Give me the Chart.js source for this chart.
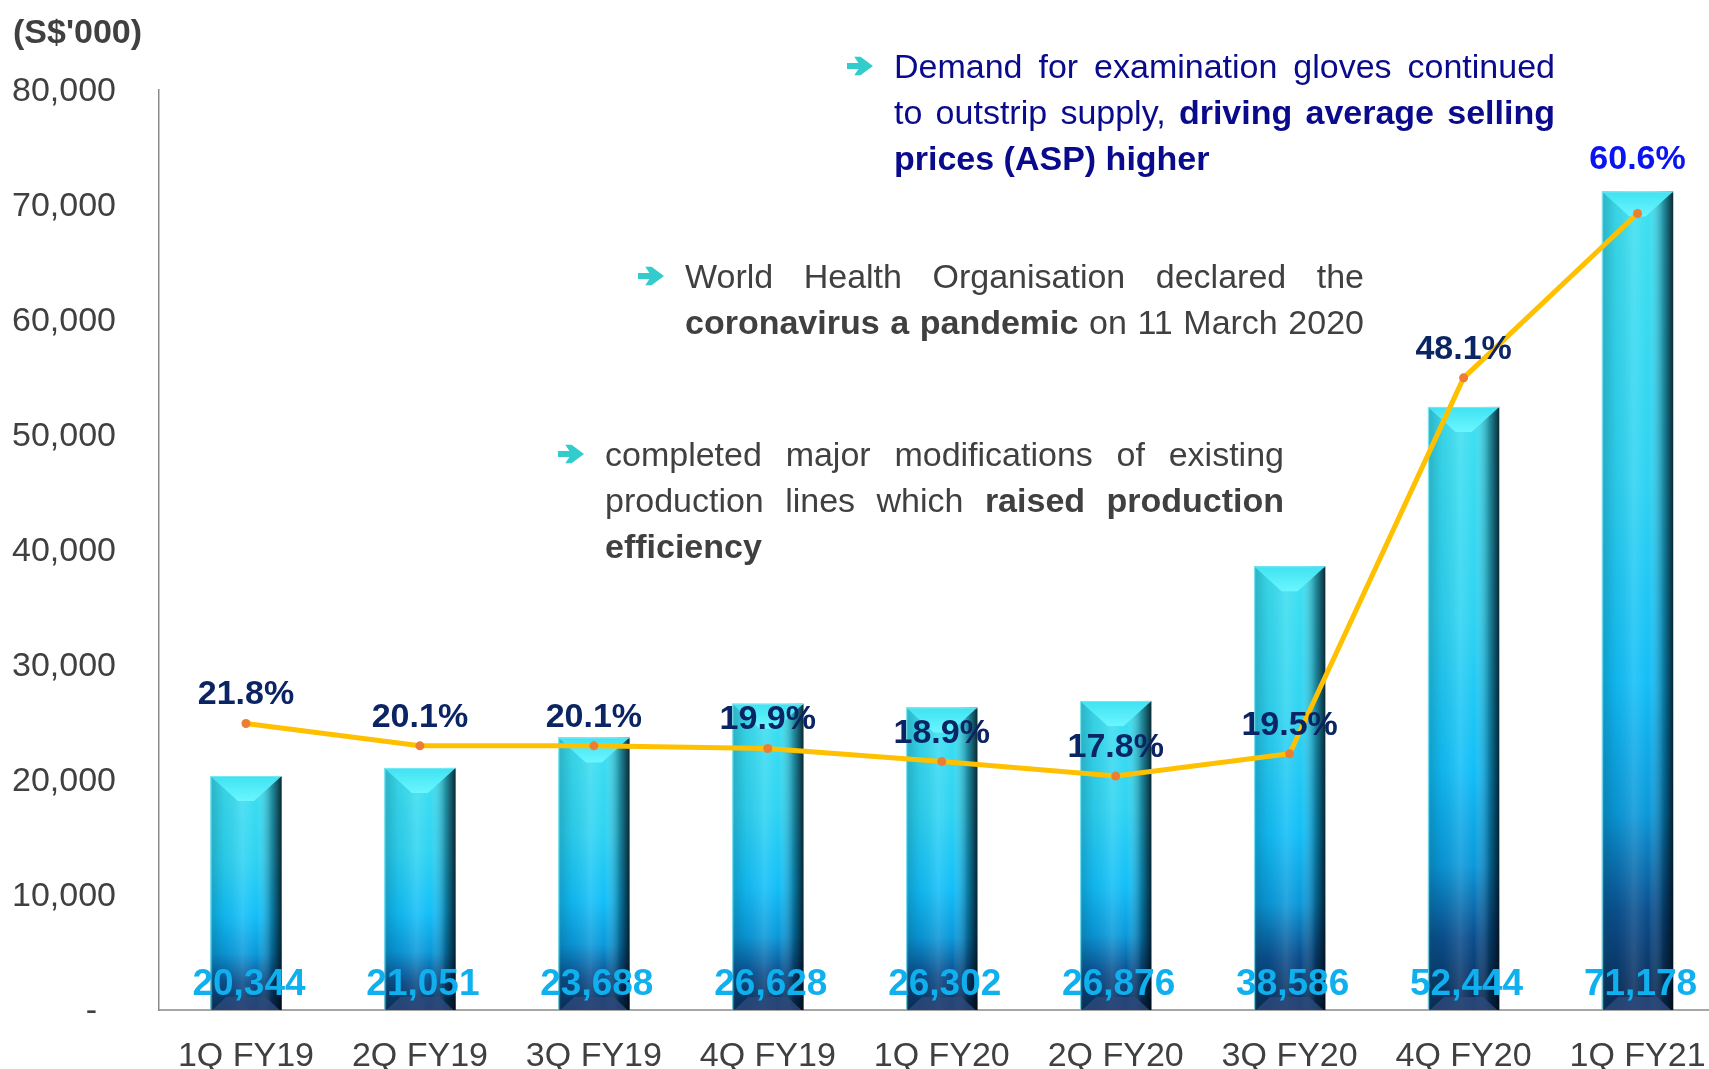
<!DOCTYPE html>
<html>
<head>
<meta charset="utf-8">
<title>Revenue and growth</title>
<script src="https://cdn.jsdelivr.net/npm/chart.js@4.4.1/dist/chart.umd.min.js"></script>
<style>
  html, body { margin: 0; padding: 0; background: #fff; overflow: hidden; }
  #wrap { position: relative; width: 1729px; height: 1069px; }
  #revChart { display: block; width: 1729px; height: 1069px; }
  .unit { position: absolute; left: 13px; top: 8px; font: bold 34px "Liberation Sans", Arial, sans-serif; line-height: 46px; color: #404040; }
  .note { position: absolute; font-family: "Liberation Sans", Arial, sans-serif; font-size: 34px; line-height: 46px; color: #404040; }
  .note .j { text-align: justify; text-align-last: justify; }
  .note b { font-weight: bold; }
  .note svg { position: absolute; left: -47px; top: 13px; }
  .blue { color: #0a0a8c; }
</style>
</head>
<body>
<div id="wrap">
  <canvas id="revChart" width="1729" height="1069"></canvas>
  <div class="unit">(S$'000)</div>

  <div class="note blue" style="left:894px; top:43px; width:661px;">
    <svg width="26" height="20" viewBox="0 0 25 18"><polygon points="0,6 11,6 7,0 13,0 25,9 13,18 7,18 11,12 0,12" fill="#33cccc"/></svg>
    <div class="j">Demand for examination gloves continued</div>
    <div class="j">to outstrip supply, <b>driving average selling</b></div>
    <div><b>prices (ASP) higher</b></div>
  </div>

  <div class="note" style="left:685px; top:253px; width:679px;">
    <svg width="26" height="20" viewBox="0 0 25 18"><polygon points="0,6 11,6 7,0 13,0 25,9 13,18 7,18 11,12 0,12" fill="#33cccc"/></svg>
    <div class="j">World Health Organisation declared the</div>
    <div class="j"><b>coronavirus a pandemic</b> on 11 March 2020</div>
  </div>

  <div class="note" style="left:605px; top:431px; width:679px;">
    <svg width="26" height="20" viewBox="0 0 25 18"><polygon points="0,6 11,6 7,0 13,0 25,9 13,18 7,18 11,12 0,12" fill="#33cccc"/></svg>
    <div class="j">completed major modifications of existing</div>
    <div class="j">production lines which <b>raised production</b></div>
    <div><b>efficiency</b></div>
  </div>
</div>

<script>
const categories = ['1Q FY19', '2Q FY19', '3Q FY19', '4Q FY19', '1Q FY20', '2Q FY20', '3Q FY20', '4Q FY20', '1Q FY21'];
const revenue = [20344, 21051, 23688, 26628, 26302, 26876, 38586, 52444, 71178];
const margin = [21.8, 20.1, 20.1, 19.9, 18.9, 17.8, 19.5, 48.1, 60.6];
const revenueTicks = [0, 10000, 20000, 30000, 40000, 50000, 60000, 70000, 80000];

const FONT = '"Liberation Sans", Arial, sans-serif';

// shading + bevels on top of the plain bars
const barLook = {
    id: 'barLook',
    afterDatasetDraw(chart, args) {
        if (args.meta.type !== 'bar') return;
        const ctx = chart.ctx;
        args.meta.data.forEach(bar => {
            const w = bar.width, l = bar.x - w / 2, r = bar.x + w / 2;
            const t = bar.y, b = bar.base;
            ctx.save();

            let g = ctx.createLinearGradient(l, 0, r, 0);
            g.addColorStop(0, 'rgba(120,220,230,0.6)');
            g.addColorStop(0.04, 'rgba(0,70,90,0.25)');
            g.addColorStop(0.2, 'rgba(0,70,90,0.08)');
            g.addColorStop(0.45, 'rgba(255,255,255,0.12)');
            g.addColorStop(0.65, 'rgba(255,255,255,0)');
            g.addColorStop(0.86, 'rgba(0,25,40,0.4)');
            g.addColorStop(1, 'rgba(0,10,20,0.85)');
            ctx.fillStyle = g;
            ctx.fillRect(l, t, w, b - t);

            // top bevel
            const d = 25;
            ctx.beginPath();
            ctx.moveTo(l, t);
            ctx.lineTo(r, t);
            ctx.lineTo(bar.x + 8, t + d);
            ctx.lineTo(bar.x - 8, t + d);
            ctx.closePath();
            g = ctx.createLinearGradient(0, t, 0, t + d);
            g.addColorStop(0, '#3fe2f2');
            g.addColorStop(1, '#6af6ff');
            ctx.fillStyle = g;
            ctx.fill();

            // bottom bevel
            ctx.beginPath();
            ctx.moveTo(l + 2, b);
            ctx.lineTo(r - 2, b);
            ctx.lineTo(r - 16, b - 13);
            ctx.lineTo(l + 16, b - 13);
            ctx.closePath();
            ctx.fillStyle = 'rgba(45,75,125,0.8)';
            ctx.fill();

            ctx.strokeStyle = 'rgba(150,235,245,0.7)';
            ctx.lineWidth = 1;
            ctx.beginPath();
            ctx.moveTo(l + 0.5, b);
            ctx.lineTo(l + 0.5, t + 0.5);
            ctx.lineTo(r, t + 0.5);
            ctx.stroke();
            ctx.restore();
        });
    }
};

const valueLabels = {
    id: 'valueLabels',
    afterDatasetsDraw(chart) {
        const ctx = chart.ctx;
        const bars = chart.getDatasetMeta(0).data;
        const points = chart.getDatasetMeta(1).data;
        ctx.save();
        ctx.textAlign = 'center';
        ctx.textBaseline = 'alphabetic';

        ctx.font = 'bold 37px ' + FONT;
        ctx.fillStyle = '#10b0ee';
        bars.forEach((bar, i) => {
            ctx.fillText(revenue[i].toLocaleString('en-US'), bar.x + 3, bar.base - 15);
        });

        ctx.font = 'bold 34px ' + FONT;
        points.forEach((pt, i) => {
            const last = i === points.length - 1;
            ctx.fillStyle = last ? '#0a14f0' : '#0b2463';
            ctx.fillText(margin[i].toFixed(1) + '%', pt.x, pt.y - (last ? 45 : 19));
        });
        ctx.restore();
    }
};

new Chart(document.getElementById('revChart'), {
    data: {
        labels: categories,
        datasets: [{
            type: 'bar',
            label: 'Revenue',
            data: revenue,
            yAxisID: 'y',
            order: 2,
            barPercentage: 0.41,
            categoryPercentage: 1,
            backgroundColor: function(c) {
                const chart = c.chart;
                if (!chart.chartArea) return '#1cc4f2';
                const y = chart.scales.y;
                const top = y.getPixelForValue(c.raw);
                const bot = y.getPixelForValue(0);
                const g = chart.ctx.createLinearGradient(0, top, 0, bot);
                g.addColorStop(0, '#3ee0f0');
                g.addColorStop(0.35, '#2ed3f2');
                g.addColorStop(0.6, '#12bef8');
                g.addColorStop(0.76, '#0a98da');
                g.addColorStop(0.88, '#0a4e8e');
                g.addColorStop(1, '#0a2650');
                return g;
            }
        }, {
            type: 'line',
            label: 'Growth',
            data: margin,
            yAxisID: 'y1',
            order: 1,
            borderColor: '#ffc000',
            borderWidth: 5,
            tension: 0,
            pointRadius: 4.5,
            pointBackgroundColor: '#ed7d31',
            pointBorderWidth: 0
        }]
    },
    options: {
        responsive: false,
        animation: false,
        layout: { padding: { top: 90, left: 0, right: 0, bottom: 0 } },
        plugins: {
            legend: { display: false },
            tooltip: { enabled: false }
        },
        scales: {
            x: {
                offset: true,
                grid: { display: false, drawTicks: false },
                border: { color: '#a6a6a6', width: 2 },
                ticks: {
                    color: '#404040',
                    padding: 26,
                    maxRotation: 0,
                    autoSkip: false,
                    font: { family: FONT, size: 34 }
                },
                afterFit(scale) {
                    scale.height = 59;
                    scale.paddingLeft = 0;
                    scale.paddingRight = 0;
                }
            },
            y: {
                min: 0,
                max: 80000,
                grid: { display: false, drawTicks: false },
                border: { color: '#8c8c8c', width: 1.5 },
                afterBuildTicks(scale) {
                    scale.ticks = revenueTicks.map(v => ({ value: v }));
                },
                ticks: {
                    color: '#404040',
                    padding: 43,
                    labelOffset: 2,
                    font: { family: FONT, size: 34 },
                    callback: v => v === 0 ? '-  ' : v.toLocaleString('en-US')
                },
                afterFit(scale) {
                    scale.width = 159;
                    scale.paddingTop = 0;
                    scale.paddingBottom = 0;
                }
            },
            y1: {
                display: false,
                min: 0,
                max: 70
            }
        }
    },
    plugins: [barLook, valueLabels]
});
</script>
</body>
</html>
